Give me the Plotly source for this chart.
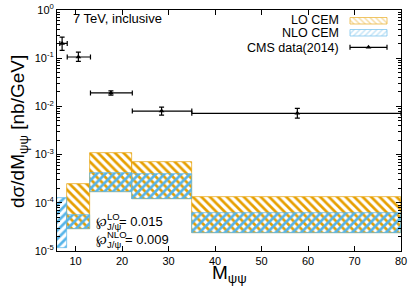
import plotly.graph_objects as go

# ---------------- data ----------------
bin_lo = [6.0, 8.2, 13.1, 22.2, 35.0]
bin_hi = [8.2, 13.1, 22.2, 35.0, 80.0]

# LO CEM band (no band in first bin)
lo_lower = [None, 2.9e-5, 1.70e-4, 1.22e-4, 2.4e-5]
lo_upper = [None, 2.5e-4, 1.08e-3, 7.1e-4, 1.34e-4]
# NLO CEM band
nlo_lower = [1.18e-5, 2.9e-5, 1.70e-4, 1.22e-4, 2.4e-5]
nlo_upper = [1.27e-4, 5.7e-5, 4.2e-4, 4.0e-4, 6.2e-5]

# CMS data (2014)
cms_x = [7.1, 10.6, 17.6, 28.5, 57.7]
cms_xlo = [6.6, 8.2, 13.2, 22.2, 35.0]
cms_xhi = [8.2, 13.2, 22.2, 35.0, 80.0]
cms_y = [0.203, 0.106, 0.019, 0.0080, 0.0072]
cms_ylo = [0.146, 0.086, 0.0172, 0.0066, 0.0057]
cms_yhi = [0.274, 0.134, 0.021, 0.0097, 0.0091]

y_tickvals = [1e-5, 1e-4, 1e-3, 1e-2, 1e-1, 1]
y_ticktext = ["10<sup>-5</sup>", "10<sup>-4</sup>", "10<sup>-3</sup>",
              "10<sup>-2</sup>", "10<sup>-1</sup>", "10<sup>0</sup>"]
x_tickvals = [10, 20, 30, 40, 50, 60, 70, 80]

ORANGE = "#E69F00"
BLUE = "#56B4E9"
FONT = "Liberation Sans, Arial, Helvetica, sans-serif"

# plot-area geometry in pixels (for legend / annotations placement)
W, H = 415, 291
ML, MR, MT, MB = 57, 14, 10, 40
X0, X1 = ML, W - MR
Y0, Y1 = MT, H - MB


def px(x):
    return (x - X0) / (X1 - X0)


def py(y):
    return (Y1 - y) / (Y1 - Y0)


fig = go.Figure()


def band(lower, upper, color, shape):
    xs, ws, bs, hs = [], [], [], []
    for a, b, l, u in zip(bin_lo, bin_hi, lower, upper):
        if l is None:
            continue
        xs.append((a + b) / 2)
        ws.append(b - a)
        bs.append(l)
        hs.append(u - l)
    fig.add_trace(go.Bar(
        x=xs, y=hs, base=bs, width=ws,
        marker=dict(color="rgba(0,0,0,0)",
                    line=dict(color=color, width=0.7),
                    pattern=dict(shape=shape, fgcolor=color,
                                 bgcolor="rgba(0,0,0,0)", size=6,
                                 solidity=0.45, fillmode="replace")),
        opacity=1, showlegend=False, hoverinfo="skip"))


band(lo_lower, lo_upper, ORANGE, "\\")
band(nlo_lower, nlo_upper, BLUE, "/")

fig.add_trace(go.Scatter(
    x=cms_x, y=cms_y, mode="markers",
    marker=dict(symbol="triangle-up", size=5, color="black"),
    error_x=dict(type="data", symmetric=False,
                 array=[h - x for h, x in zip(cms_xhi, cms_x)],
                 arrayminus=[x - l for l, x in zip(cms_xlo, cms_x)],
                 color="black", thickness=1.2, width=2.5),
    error_y=dict(type="data", symmetric=False,
                 array=[h - y for h, y in zip(cms_yhi, cms_y)],
                 arrayminus=[y - l for l, y in zip(cms_ylo, cms_y)],
                 color="black", thickness=1.2, width=2.5),
    showlegend=False, hoverinfo="skip"))

# ---------------- custom legend (pixel overlay axes) ----------------
sw_x0, sw_x1 = 350, 387


def swatch(y0, y1, color, shape):
    fig.add_trace(go.Scatter(
        x=[sw_x0, sw_x1, sw_x1, sw_x0, sw_x0],
        y=[y0, y0, y1, y1, y0],
        xaxis="x2", yaxis="y2", mode="lines", fill="toself",
        line=dict(color=color, width=0.8),
        fillcolor="rgba(0,0,0,0)",
        fillpattern=dict(shape=shape, fgcolor=color, bgcolor="rgba(0,0,0,0)",
                         size=4, solidity=0.35),
        opacity=0.75, showlegend=False, hoverinfo="skip"))


swatch(17.5, 24.0, ORANGE, "\\")
swatch(29.5, 36.0, BLUE, "/")
fig.add_trace(go.Scatter(
    x=[(sw_x0 + sw_x1) / 2], y=[47.3], xaxis="x2", yaxis="y2",
    mode="markers", marker=dict(symbol="triangle-up", size=5, color="black"),
    error_x=dict(type="constant", value=(sw_x1 - sw_x0) / 2, color="black",
                 thickness=1.2, width=2.5),
    showlegend=False, hoverinfo="skip"))

annotations = []
for txt, yy in [("LO CEM", 20.5), ("NLO CEM", 33.0), ("CMS data(2014)", 47.6)]:
    annotations.append(dict(text=txt, x=px(341), y=py(yy), xref="paper", yref="paper",
                            xanchor="right", yanchor="middle", showarrow=False,
                            font=dict(size=12.5, color="black", family=FONT)))

annotations.append(dict(text="7 TeV, inclusive", x=px(71), y=py(18), xref="paper",
                        yref="paper", xanchor="left", yanchor="middle", showarrow=False,
                        font=dict(size=13, color="black", family=FONT)))

# axis titles
annotations.append(dict(text="M<sub>ψψ</sub>", x=px(229), y=py(274), xref="paper",
                        yref="paper", xanchor="center", yanchor="middle",
                        showarrow=False, font=dict(size=19, color="black", family=FONT)))
annotations.append(dict(text="dσ/dM<sub>ψψ</sub> [nb/GeV]", x=px(19), y=py(132),
                        xref="paper", yref="paper", xanchor="center", yanchor="middle",
                        textangle=-90, showarrow=False,
                        font=dict(size=19, color="black", family=FONT)))

# stacked super/subscript labels
for sym_y, sup, val, val_x in [(222, "LO", "= 0.015", 117),
                               (240, "NLO", "= 0.009", 123)]:
    annotations.append(dict(text="℘", x=px(101), y=py(sym_y), xref="paper", yref="paper",
                            xanchor="center", yanchor="middle", showarrow=False,
                            font=dict(size=13, color="black", family=FONT)))
    annotations.append(dict(text=sup, x=px(105), y=py(sym_y - 6), xref="paper",
                            yref="paper", xanchor="left", yanchor="middle",
                            showarrow=False,
                            font=dict(size=9.5, color="black", family=FONT)))
    annotations.append(dict(text="J/ψ", x=px(105), y=py(sym_y + 4.5), xref="paper",
                            yref="paper", xanchor="left", yanchor="middle",
                            showarrow=False,
                            font=dict(size=9.5, color="black", family=FONT)))
    annotations.append(dict(text=val, x=px(val_x), y=py(sym_y - 1), xref="paper",
                            yref="paper", xanchor="left", yanchor="middle",
                            showarrow=False,
                            font=dict(size=13, color="black", family=FONT)))

fig.update_layout(
    width=W, height=H,
    margin=dict(l=ML, r=MR, t=MT, b=MB, autoexpand=False),
    paper_bgcolor="white", plot_bgcolor="white",
    barmode="overlay", bargap=0, showlegend=False,
    font=dict(family=FONT, color="black"),
    annotations=annotations,
    xaxis=dict(range=[6, 80], tickvals=x_tickvals, ticks="inside", ticklen=5,
               tickcolor="black", showline=True, linecolor="black", linewidth=1,
               mirror="allticks", showgrid=False, zeroline=False, automargin=False,
               tickfont=dict(size=11, family=FONT)),
    yaxis=dict(type="log", range=[-5, 0], tickvals=y_tickvals, ticktext=y_ticktext,
               ticks="inside", ticklen=5, tickcolor="black", showline=True,
               linecolor="black", linewidth=1, mirror="allticks", showgrid=False,
               zeroline=False, automargin=False, tickfont=dict(size=11, family=FONT),
               minor=dict(ticks="inside", ticklen=3, tickcolor="black",
                          tickvals=[k * 10 ** e for e in range(-5, 0) for k in range(2, 10)],
                          showgrid=False)),
    xaxis2=dict(range=[X0, X1], overlaying="x", anchor="y2", visible=False),
    yaxis2=dict(range=[Y1, Y0], overlaying="y", anchor="x2", visible=False),
)

fig.write_html("out.html", config={"displayModeBar": False},
               post_script="document.body.style.margin='0';document.body.style.padding='0';")
